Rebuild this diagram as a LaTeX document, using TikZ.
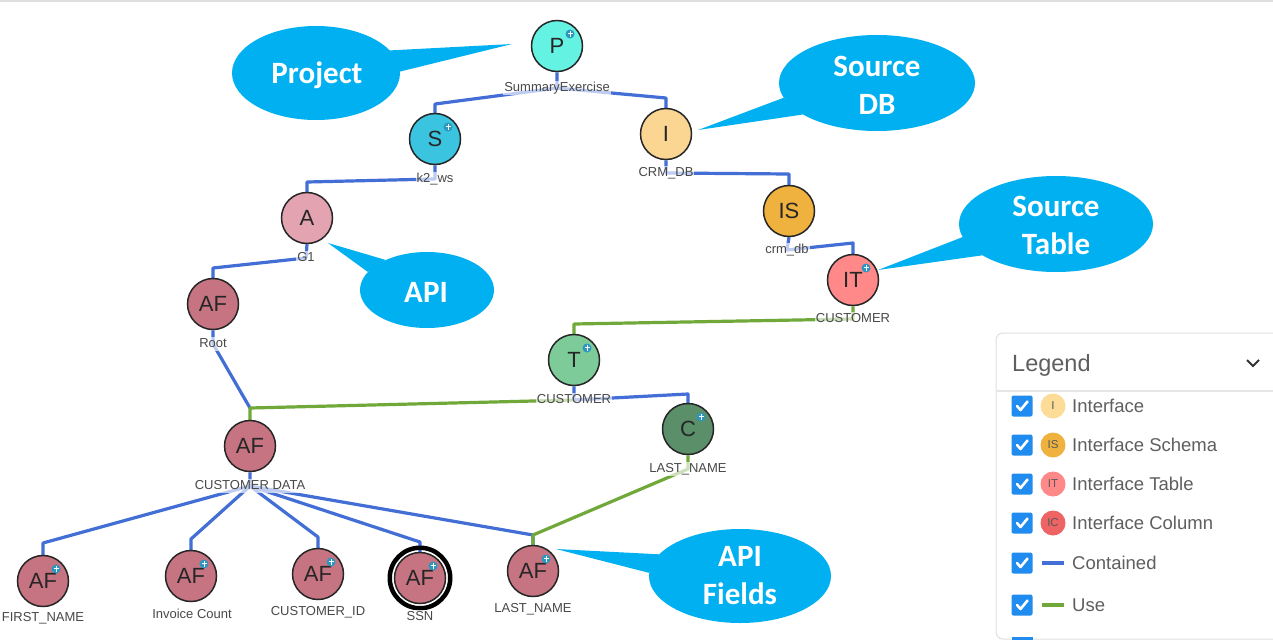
\documentclass[tikz,border=0pt]{standalone}
\usepackage{fontspec}
\setmainfont{Liberation Sans}
\newfontfamily\calfont{Carlito}
\usetikzlibrary{shapes.geometric,backgrounds}
\definecolor{contblue}{RGB}{66,110,214}
\definecolor{usegreen}{RGB}{112,168,58}
\definecolor{callblue}{RGB}{0,176,240}
\definecolor{iconblue}{RGB}{45,150,190}
\definecolor{colP}{RGB}{100,242,226}
\definecolor{colS}{RGB}{58,196,224}
\definecolor{colI}{RGB}{250,214,146}
\definecolor{colIS}{RGB}{240,178,62}
\definecolor{colIT}{RGB}{255,136,136}
\definecolor{colA}{RGB}{228,163,176}
\definecolor{colAF}{RGB}{198,116,130}
\definecolor{colT}{RGB}{126,203,154}
\definecolor{colC}{RGB}{90,143,106}
\definecolor{colIC}{RGB}{238,100,100}
\definecolor{lgI}{RGB}{252,220,150}
\definecolor{chkblue}{RGB}{33,140,240}
\definecolor{lbltext}{RGB}{72,72,72}
\definecolor{lgtext}{RGB}{95,95,95}
\newcommand\plusicon[1]{%
  \fill[iconblue] ([shift={(13,-12)}]#1.center) circle (4.5pt);
  \draw[white,line width=0.8pt] ([shift={(13,-15)}]#1.center) -- ([shift={(13,-9)}]#1.center);
  \draw[white,line width=0.8pt] ([shift={(10.5,-13)}]#1.center) -- ([shift={(15.5,-13)}]#1.center);}
\newcommand\checkmk[1]{%
  \draw[white,line width=2.6pt,line cap=round,line join=round]
    ([shift={(-5,0)}]#1.center) -- ([shift={(-1.5,4)}]#1.center) -- ([shift={(5.5,-4.5)}]#1.center);}
\begin{document}
\begin{tikzpicture}[x=1pt,y=-1pt,
  gnode/.style={circle,draw=black!85,line width=1.5pt,minimum size=51pt,inner sep=0pt,
    font=\fontsize{22}{22}\selectfont,text=black!85},
  lbl/.style={font=\fontsize{13}{13}\selectfont,text=lbltext,fill=white,fill opacity=0.65,
    text opacity=1,inner sep=1pt,text height=9.5pt,text depth=2.5pt},
  cont/.style={draw=contblue,line width=3.2pt,line join=round},
  useln/.style={draw=usegreen,line width=3.2pt,line join=round},
  callout/.style={ellipse,fill=callblue,inner sep=0pt},
  callt/.style={text=white,font=\calfont\bfseries\fontsize{31}{38}\selectfont,align=center,inner sep=0pt},
  lgtxt/.style={anchor=base west,font=\fontsize{18.5}{20}\selectfont,text=lgtext,inner sep=0pt},
  lgdot/.style={circle,minimum size=25pt,inner sep=0pt,font=\fontsize{11.5}{11.5}\selectfont,text=black!65},
  chk/.style={fill=chkblue,rounded corners=2pt,minimum size=21pt,inner sep=0pt}
]
\begin{pgfonlayer}{background}
  \fill[white] (0,0) rectangle (1273,640);
\end{pgfonlayer}
\useasboundingbox (0,0) rectangle (1273,640);
\draw[black!12,line width=2pt] (0,1) -- (1273,1);

% ---------- nodes ----------
\node[gnode,fill=colP]  (P)  at (557,46)  {P};
\node[gnode,fill=colS]  (S)  at (435,139) {S};
\node[gnode,fill=colI]  (I)  at (666,134) {I};
\node[gnode,fill=colIS] (IS) at (789,211) {IS};
\node[gnode,fill=colIT] (IT) at (853,280) {IT};
\node[gnode,fill=colA]  (A)  at (307,218) {A};
\node[gnode,fill=colAF] (R)  at (213,304) {AF};
\node[gnode,fill=colT]  (T)  at (574,360) {T};
\node[gnode,fill=colC]  (C)  at (688,429) {C};
\node[gnode,fill=colAF] (CD) at (250,446) {AF};
\node[gnode,fill=colAF] (FN) at (43,581)  {AF};
\node[gnode,fill=colAF] (IC) at (191,576) {AF};
\node[gnode,fill=colAF] (CID) at (318,574) {AF};
\draw[black,line width=4.5pt] (420,578) circle (30.25pt);
\node[gnode,fill=colAF] (SSN) at (420,578) {AF};
\node[gnode,fill=colAF] (LN) at (533,571) {AF};

\foreach \n in {P,S,IT,T,C,FN,IC,CID,SSN,LN} {\plusicon{\n}}

% ---------- node labels ----------
\node[lbl] (Pl)   at (557,88)  {SummaryExercise};
\node[lbl] (Sl)   at (435,179) {k2\_ws};
\node[lbl] (Il)   at (666,173) {CRM\_DB};
\node[lbl] (ISl)  at (787,250) {crm\_db};
\node[lbl] (ITl)  at (853,319) {CUSTOMER};
\node[lbl] (Al)   at (306,258) {G1};
\node[lbl] (Rl)   at (213,344) {Root};
\node[lbl] (Tl)   at (574,400) {CUSTOMER};
\node[lbl] (Cl)   at (688,469) {LAST\_NAME};
\node[lbl] (CDl)  at (250,486) {CUSTOMER DATA};
\node[lbl] (FNl)  at (43,618)  {FIRST\_NAME};
\node[lbl] (ICl)  at (192,615) {Invoice Count};
\node[lbl] (CIDl) at (318,612) {CUSTOMER\_ID};
\node[lbl] (SSNl) at (420,617) {SSN};
\node[lbl] (LNl)  at (533,609) {LAST\_NAME};

% ---------- connectors ----------
\begin{pgfonlayer}{background}
  \draw[cont] (P.south) -- (Pl.center) -- (S.north |- 0,104) -- (S.north);
  \draw[cont] (Pl.center) -- (I.north |- 0,98) -- (I.north);
  \draw[cont] (S.south) -- (Sl.center) -- (A.north |- 0,182) -- (A.north);
  \draw[cont] (I.south) -- (Il.center) -- (IS.north |- 0,174) -- (IS.north);
  \draw[cont] (IS.south) -- (ISl.center) -- (IT.north |- 0,243) -- (IT.north);
  \draw[cont] (A.south) -- (Al.center) -- (R.north |- 0,268) -- (R.north);
  \draw[cont] (R.south) -- (Rl.center) -- (CD.north |- 0,408);
  \draw[cont] (T.south) -- (Tl.center) -- (C.north |- 0,394) -- (C.north);
  \draw[cont] (CD.south) -- (CDl.center) -- (FN.north |- 0,543) -- (FN.north);
  \draw[cont] (CDl.center) -- (IC.north |- 0,539) -- (IC.north);
  \draw[cont] (CDl.center) -- (CID.north |- 0,537) -- (CID.north);
  \draw[cont] (CDl.center) -- (SSN.north |- 0,542) -- (SSN.north);
  \draw[cont] (CDl.center) -- (LN.north |- 0,535) -- (LN.north);
  \draw[useln] (IT.south) -- (ITl.center) -- (T.north |- 0,324) -- (T.north);
  \draw[useln] (Tl.center) -- (CD.north |- 0,408) -- (CD.north);
  \draw[useln] (C.south) -- (Cl.center) -- (LN.north |- 0,535) -- (LN.north);
\end{pgfonlayer}

% ---------- callouts ----------
\node[callout,minimum width=168pt,minimum height=94pt] (calP) at (316,73) {};
\coordinate (tipP) at (512,44);
\fill[callblue] (calP.17) -- (tipP) -- (calP.1) -- cycle;
\node[callt] (calPt) at (317,75) {Project};

\node[callout,minimum width=196pt,minimum height=96pt] (calDB) at (877,83) {};
\coordinate (tipDB) at (698,130);
\fill[callblue] (calDB.189) -- (tipDB) -- (calDB.203) -- cycle;
\node[callt] (calDBt) at (877,85) {Source\\DB};

\node[callout,minimum width=194pt,minimum height=96pt] (calST) at (1056,224) {};
\coordinate (tipST) at (878,270);
\fill[callblue] (calST.188) -- (tipST) -- (calST.203) -- cycle;
\node[callt] (calSTt) at (1056,225) {Source\\Table};

\node[callout,minimum width=134pt,minimum height=76pt] (calA) at (427,290) {};
\coordinate (tipA) at (328,243);
\fill[callblue] (calA.163) -- (tipA) -- (calA.144) -- cycle;
\node[callt] (calAt) at (426,292) {API};

\node[callout,minimum width=182pt,minimum height=94pt] (calF) at (740,576) {};
\coordinate (tipF) at (556,549);
\fill[callblue] (calF.165) -- (tipF) -- (calF.178) -- cycle;
\node[callt] (calFt) at (740,576) {API\\Fields};

% ---------- legend ----------
\draw[black!12,line width=1pt,rounded corners=7pt,fill=white] (996,333) rectangle (1290,639);
\draw[black!10,line width=1.2pt] (997,391) -- (1273,391);
\node[anchor=base west,font=\fontsize{23.5}{24}\selectfont,text=lgtext,inner sep=0pt] (lgh) at (1012,371.5) {Legend};
\coordinate (chev) at (1253,363);
\draw[black!80,line width=2pt] ([shift={(-6,-3)}]chev) -- ([shift={(0,3)}]chev) -- ([shift={(6,-3)}]chev);

\node[chk] (k1) at (1022,406) {}; \checkmk{k1}
\node[lgdot,fill=lgI] (d1) at (1053,406) {I};
\node[lgtxt] (t1) at (1072,412.6) {Interface};

\node[chk] (k2) at (1022,445) {}; \checkmk{k2}
\node[lgdot,fill=colIS] (d2) at (1053,445) {IS};
\node[lgtxt] (t2) at (1072,451.6) {Interface Schema};

\node[chk] (k3) at (1022,484) {}; \checkmk{k3}
\node[lgdot,fill=colIT] (d3) at (1053,484) {IT};
\node[lgtxt] (t3) at (1072,490.6) {Interface Table};

\node[chk] (k4) at (1022,523) {}; \checkmk{k4}
\node[lgdot,fill=colIC] (d4) at (1053,523) {IC};
\node[lgtxt] (t4) at (1072,529.6) {Interface Column};

\node[chk] (k5) at (1022,563) {}; \checkmk{k5}
\draw[cont,line width=3.5pt] (1042,563) -- (1064,563);
\node[lgtxt] (t5) at (1072,569.6) {Contained};

\node[chk] (k6) at (1022,605) {}; \checkmk{k6}
\draw[useln,line width=3.5pt] (1042,605) -- (1064,605);
\node[lgtxt] (t6) at (1072,611.6) {Use};

\fill[chkblue] (1011.5,636.5) rectangle (1032.5,640);
\end{tikzpicture}
\end{document}
